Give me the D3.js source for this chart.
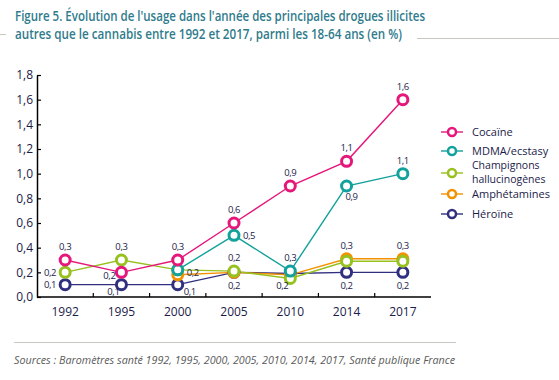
<!DOCTYPE html>
<html><head><meta charset="utf-8">
<script src="https://cdn.jsdelivr.net/npm/d3@7"></script>
<style>body{margin:0;background:#fff}svg{display:block}</style>
</head><body>
<script>
const years = ["1992","1995","2000","2005","2010","2014","2017"];
const yTicks = [0,0.2,0.4,0.6,0.8,1.0,1.2,1.4,1.6,1.8];
const cocaine = [0.3,0.2,0.3,0.6,0.9,1.1,1.6];
const mdma = [null,null,0.22,0.5,0.21,0.9,1.0];
const champignons = [0.2,0.3,0.22,0.21,0.15,0.29,0.29];
const amphetamines = [null,null,0.18,0.2,0.18,0.31,0.31];
const heroine = [0.1,0.1,0.1,0.2,0.19,0.2,0.2];
const seriesNames = ["Cocaïne","MDMA/ecstasy","Champignons hallucinogènes","Amphétamines","Héroïne"];
// value labels: [year, text, anchor value, placement]
const valueLabels = [
 ["1992","0,3",0.3,"above"],["1995","0,2",0.2,"leftlow"],["2000","0,3",0.3,"above"],
 ["2005","0,6",0.6,"above"],["2010","0,9",0.9,"above"],["2014","1,1",1.1,"above"],["2017","1,6",1.6,"above"],
 ["1992","0,2",0.2,"left"],["1995","0,3",0.3,"above"],
 ["1992","0,1",0.1,"left"],["1995","0,1",0.1,"leftbelow"],["2000","0,1",0.1,"rightbelow"],
 ["2000","0,2",0.2,"right"],
 ["2005","0,5",0.5,"right"],["2005","0,2",0.21,"above"],["2005","0,2",0.2,"below"],
 ["2010","0,3",0.21,"above"],["2010","0,2",0.15,"leftbelow"],
 ["2014","0,9",0.9,"belowright"],["2014","0,3",0.31,"above"],["2014","0,2",0.2,"below"],
 ["2017","1,1",1.0,"above"],["2017","0,3",0.31,"above"],["2017","0,2",0.2,"below"]
];

const colors = ["#e5177b","#13a19c","#97c11f","#f39200","#302f80"];
const seriesData = [cocaine,mdma,champignons,amphetamines,heroine];
const W=559,H=380;
const svg=d3.select("body").append("svg").attr("width",W).attr("height",H);
const txt="#1b1b4a";

// title
const title=svg.append("g").attr("font-family","Open Sans").attr("font-weight",600).attr("fill","#2f7b8c").attr("font-size",14);
title.append("text").attr("x",15).attr("y",21).text("Figure 5. Évolution de l'usage dans l'année des principales drogues illicites")
 .attr("textLength",410).attr("lengthAdjust","spacingAndGlyphs");
title.append("text").attr("x",15).attr("y",39).text("autres que le cannabis entre 1992 et 2017, parmi les 18-64 ans (en %)")
 .attr("textLength",387).attr("lengthAdjust","spacingAndGlyphs");
svg.append("line").attr("x1",0).attr("x2",6).attr("y1",34.5).attr("y2",34.5).attr("stroke","#c8c8c0");
svg.append("line").attr("x1",417).attr("x2",559).attr("y1",38.5).attr("y2",38.5).attr("stroke","#c8c8c0");

const x=d3.scaleBand().domain(years).range([37,431]).padding(0);
const y=d3.scaleLinear().domain([0,1.8]).range([297,75]);
const cx=d=>x(d)+x.bandwidth()/2;

// y axis
const ya=svg.append("g").attr("transform","translate(37,0)")
 .call(d3.axisLeft(y).tickValues(yTicks).tickSizeInner(-4).tickSizeOuter(0).tickPadding(4).tickFormat(d=>d3.format(".1f")(d).replace(".",",")));
ya.select(".domain").attr("stroke","#000").attr("stroke-width",1.5);
ya.selectAll(".tick line").attr("stroke","#000").attr("stroke-width",1.2);
ya.selectAll("text").attr("font-family","Open Sans").attr("font-size",12).attr("fill",txt);

// x axis
const xa=svg.append("g").attr("transform","translate(0,297)")
 .call(d3.axisBottom(x).tickSize(0).tickPadding(10));
xa.select(".domain").remove();
xa.selectAll("text").attr("font-family","Open Sans").attr("font-size",12).attr("fill",txt);
svg.append("line").attr("x1",37).attr("x2",431).attr("y1",297).attr("y2",297).attr("stroke","#000").attr("stroke-width",1.5);
svg.append("g").selectAll("line").data(years.slice(1)).join("line")
 .attr("x1",d=>x(d)).attr("x2",d=>x(d)).attr("y1",297).attr("y2",293).attr("stroke","#000").attr("stroke-width",1.2);

// series, drawn bottom-up
const order=[4,3,2,1,0];
const line=d3.line().defined(d=>d.v!=null).x(d=>cx(d.year)).y(d=>y(d.v));
order.forEach(i=>{
  const pts=years.map((yr,j)=>({year:yr,v:seriesData[i][j]}));
  svg.append("path").datum(pts).attr("d",line).attr("fill","none").attr("stroke",colors[i]).attr("stroke-width",1.4);
});
order.forEach(i=>{
  const pts=years.map((yr,j)=>({year:yr,v:seriesData[i][j]})).filter(d=>d.v!=null);
  svg.append("g").selectAll("circle").data(pts).join("circle")
   .attr("cx",d=>cx(d.year)).attr("cy",d=>y(d.v)).attr("r",5).attr("fill","#fff").attr("stroke",colors[i]).attr("stroke-width",3);
});

// value labels
const off={above:[0,-10,"middle"],below:[0,17,"middle"],left:[-9,3.5,"end"],right:[9,3.5,"start"],
 leftlow:[-6,7,"end"],leftbelow:[-2,10,"end"],rightbelow:[6,10,"start"],belowright:[5,14,"middle"]};
svg.append("g").selectAll("text").data(valueLabels).join("text")
 .attr("x",d=>cx(d[0])+off[d[3]][0]).attr("y",d=>y(d[2])+off[d[3]][1]).attr("text-anchor",d=>off[d[3]][2])
 .attr("font-family","Open Sans").attr("font-size",9.5).attr("letter-spacing",-0.4).attr("fill",txt).text(d=>d[1]);

// legend
const legY=[132,151,173,194,214];
const lg=svg.append("g");
seriesNames.forEach((n,i)=>{
  const g=lg.append("g").attr("transform",`translate(0,${legY[i]})`);
  g.append("line").attr("x1",441).attr("x2",463).attr("stroke",colors[i]).attr("stroke-width",1.4);
  g.append("circle").attr("cx",452).attr("r",4).attr("fill","#fff").attr("stroke",colors[i]).attr("stroke-width",2.5);
  const t=g.append("text").attr("x",472).attr("font-family","Open Sans").attr("font-size",11).attr("fill",txt);
  if(i===2){
    t.attr("font-size",10.5);
    t.append("tspan").attr("x",472).attr("y",-4).text("Champignons");
    t.append("tspan").attr("x",472).attr("y",10.3).text("hallucinogènes");
  } else t.attr("y",4).text(n);
});

// footer
svg.append("line").attr("x1",14).attr("x2",456).attr("y1",342.5).attr("y2",342.5).attr("stroke","#c8c8c0");
svg.append("text").attr("x",14).attr("y",364).attr("font-family","Open Sans").attr("font-style","italic")
 .attr("font-size",11).attr("fill","#5a5a5a").attr("textLength",441).attr("lengthAdjust","spacingAndGlyphs")
 .text("Sources : Baromètres santé 1992, 1995, 2000, 2005, 2010, 2014, 2017, Santé publique France");
</script>
</body></html>
